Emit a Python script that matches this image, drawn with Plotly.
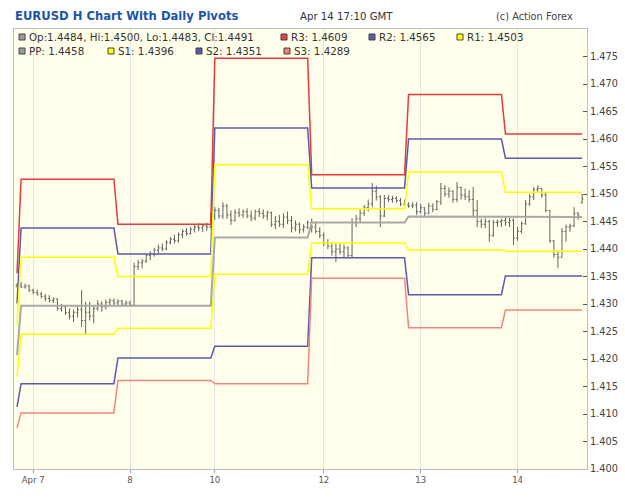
import numpy as np
import plotly.graph_objects as go

# ---------------- data (hourly bars) ----------------
opens = [1.4333, 1.4335, 1.4331, 1.4333, 1.4325, 1.4321, 1.4318, 1.4314, 1.4310, 1.4306,
         1.4309, 1.4292, 1.4295, 1.4284, 1.4278, 1.4285, 1.4290, 1.4270, 1.4285, 1.4278,
         1.4292, 1.4300, 1.4295, 1.4303, 1.4306, 1.4302, 1.4305, 1.4300, 1.4302, 1.4298,
         1.4368, 1.4375, 1.4378, 1.4388, 1.4390, 1.4398, 1.4402, 1.4400, 1.4412, 1.4418,
         1.4415, 1.4426, 1.4432, 1.4428, 1.4436, 1.4440, 1.4438, 1.4442, 1.4440, 1.4460,
         1.4470, 1.4460, 1.4478, 1.4462, 1.4452, 1.4466, 1.4462, 1.4468, 1.4460, 1.4456,
         1.4468, 1.4465, 1.4460, 1.4466, 1.4445, 1.4450, 1.4445, 1.4458, 1.4452, 1.4438,
         1.4445, 1.4435, 1.4440, 1.4448, 1.4440, 1.4432, 1.4425, 1.4410, 1.4405, 1.4395,
         1.4400, 1.4395, 1.4402, 1.4388, 1.4448, 1.4455, 1.4465, 1.4475, 1.4482, 1.4505,
         1.4495, 1.4460, 1.4492, 1.4490, 1.4492, 1.4488, 1.4482, 1.4480, 1.4478, 1.4480,
         1.4468, 1.4475, 1.4465, 1.4478, 1.4472, 1.4486, 1.4510, 1.4500, 1.4505, 1.4490,
         1.4512, 1.4498, 1.4495, 1.4490, 1.4470, 1.4450, 1.4445, 1.4450, 1.4425, 1.4448,
         1.4450, 1.4452, 1.4448, 1.4452, 1.4420, 1.4432, 1.4446, 1.4482, 1.4495, 1.4508,
         1.4510, 1.4498, 1.4470, 1.4415, 1.4390, 1.4385, 1.4432, 1.4440, 1.4442, 1.4465,
         1.4484]
highs = [1.4338, 1.4340, 1.4337, 1.4335, 1.4328, 1.4326, 1.4322, 1.4318, 1.4316, 1.4312,
         1.4310, 1.4300, 1.4298, 1.4292, 1.4290, 1.4295, 1.4325, 1.4304, 1.4304, 1.4298,
         1.4307, 1.4305, 1.4308, 1.4310, 1.4310, 1.4309, 1.4308, 1.4306, 1.4306, 1.4375,
         1.4380, 1.4382, 1.4392, 1.4396, 1.4402, 1.4408, 1.4410, 1.4416, 1.4422, 1.4426,
         1.4430, 1.4436, 1.4438, 1.4440, 1.4445, 1.4447, 1.4446, 1.4448, 1.4467, 1.4476,
         1.4475, 1.4485, 1.4482, 1.4470, 1.4472, 1.4474, 1.4472, 1.4474, 1.4470, 1.4472,
         1.4474, 1.4472, 1.4470, 1.4468, 1.4460, 1.4462, 1.4465, 1.4468, 1.4460, 1.4452,
         1.4448, 1.4445, 1.4452, 1.4455, 1.4448, 1.4440, 1.4430, 1.4418, 1.4412, 1.4410,
         1.4410, 1.4408, 1.4405, 1.4456, 1.4462, 1.4472, 1.4480, 1.4490, 1.4520, 1.4515,
         1.4498, 1.4498, 1.4498, 1.4497, 1.4496, 1.4493, 1.4490, 1.4485, 1.4485, 1.4485,
         1.4482, 1.4476, 1.4484, 1.4483, 1.4489, 1.4520, 1.4516, 1.4512, 1.4507, 1.4522,
         1.4513, 1.4510, 1.4507, 1.4513, 1.4489, 1.4455, 1.4456, 1.4453, 1.4453, 1.4453,
         1.4455, 1.4458, 1.4456, 1.4456, 1.4440, 1.4450, 1.4489, 1.4500, 1.4513, 1.4516,
         1.4511, 1.4502, 1.4471, 1.4416, 1.4398, 1.4438, 1.4444, 1.4446, 1.4476, 1.4467,
         1.4500]
lows = [1.4330, 1.4329, 1.4328, 1.4322, 1.4318, 1.4315, 1.4310, 1.4305, 1.4303, 1.4302,
        1.4288, 1.4286, 1.4280, 1.4272, 1.4267, 1.4275, 1.4258, 1.4244, 1.4270, 1.4265,
        1.4288, 1.4286, 1.4290, 1.4296, 1.4298, 1.4295, 1.4296, 1.4296, 1.4295, 1.4296,
        1.4362, 1.4365, 1.4375, 1.4380, 1.4386, 1.4392, 1.4396, 1.4398, 1.4408, 1.4410,
        1.4412, 1.4420, 1.4424, 1.4426, 1.4430, 1.4432, 1.4431, 1.4433, 1.4438, 1.4453,
        1.4455, 1.4455, 1.4455, 1.4444, 1.4450, 1.4458, 1.4457, 1.4456, 1.4450, 1.4452,
        1.4458, 1.4455, 1.4452, 1.4440, 1.4436, 1.4440, 1.4438, 1.4445, 1.4430, 1.4432,
        1.4428, 1.4430, 1.4436, 1.4430, 1.4428, 1.4420, 1.4405, 1.4400, 1.4388, 1.4376,
        1.4390, 1.4385, 1.4384, 1.4385, 1.4440, 1.4448, 1.4460, 1.4468, 1.4476, 1.4488,
        1.4440, 1.4458, 1.4485, 1.4484, 1.4484, 1.4478, 1.4475, 1.4475, 1.4474, 1.4462,
        1.4464, 1.4458, 1.4463, 1.4467, 1.4470, 1.4480, 1.4495, 1.4493, 1.4484, 1.4485,
        1.4490, 1.4489, 1.4485, 1.4458, 1.4440, 1.4438, 1.4438, 1.4413, 1.4422, 1.4440,
        1.4440, 1.4442, 1.4440, 1.4407, 1.4415, 1.4428, 1.4444, 1.4478, 1.4489, 1.4502,
        1.4493, 1.4467, 1.4411, 1.4384, 1.4365, 1.4385, 1.4413, 1.4431, 1.4440, 1.4453,
        1.4483]
closes = [1.4335, 1.4331, 1.4333, 1.4325, 1.4321, 1.4318, 1.4314, 1.4310, 1.4306, 1.4309,
          1.4292, 1.4295, 1.4284, 1.4278, 1.4285, 1.4290, 1.4270, 1.4285, 1.4278, 1.4292,
          1.4300, 1.4295, 1.4303, 1.4306, 1.4302, 1.4305, 1.4300, 1.4302, 1.4298, 1.4368,
          1.4375, 1.4378, 1.4388, 1.4390, 1.4398, 1.4402, 1.4400, 1.4412, 1.4418, 1.4415,
          1.4426, 1.4432, 1.4428, 1.4436, 1.4440, 1.4438, 1.4442, 1.4440, 1.4460, 1.4470,
          1.4460, 1.4478, 1.4462, 1.4452, 1.4466, 1.4462, 1.4468, 1.4460, 1.4456, 1.4468,
          1.4465, 1.4460, 1.4466, 1.4445, 1.4450, 1.4445, 1.4458, 1.4452, 1.4438, 1.4445,
          1.4435, 1.4440, 1.4448, 1.4440, 1.4432, 1.4425, 1.4410, 1.4405, 1.4395, 1.4400,
          1.4395, 1.4402, 1.4388, 1.4448, 1.4455, 1.4465, 1.4475, 1.4482, 1.4505, 1.4495,
          1.4460, 1.4492, 1.4490, 1.4492, 1.4488, 1.4482, 1.4480, 1.4478, 1.4480, 1.4468,
          1.4475, 1.4465, 1.4478, 1.4472, 1.4486, 1.4510, 1.4500, 1.4505, 1.4490, 1.4512,
          1.4498, 1.4495, 1.4490, 1.4470, 1.4450, 1.4445, 1.4450, 1.4425, 1.4448, 1.4450,
          1.4452, 1.4448, 1.4452, 1.4420, 1.4432, 1.4446, 1.4482, 1.4495, 1.4508, 1.4510,
          1.4498, 1.4470, 1.4415, 1.4390, 1.4385, 1.4432, 1.4440, 1.4442, 1.4465, 1.4460,
          1.4491]

# daily pivot levels (previous day, Apr 7, 8, 10/11, 12, 13, 14) and the bar where each starts
day_first_bar = [0, 1, 25, 49, 73, 97, 121]
r3 = [1.4356, 1.4527, 1.4445, 1.4747, 1.4535, 1.4681, 1.4609]
r2 = [1.4301, 1.4438, 1.4391, 1.4620, 1.4511, 1.4600, 1.4565]
r1 = [1.4262, 1.4385, 1.4350, 1.4553, 1.4473, 1.4540, 1.4503]
pp = [1.4207, 1.4297, 1.4297, 1.4421, 1.4448, 1.4459, 1.4458]
s1 = [1.4168, 1.4245, 1.4256, 1.4354, 1.4411, 1.4398, 1.4396]
s2 = [1.4113, 1.4155, 1.4202, 1.4223, 1.4384, 1.4317, 1.4351]
s3 = [1.4075, 1.4102, 1.4161, 1.4155, 1.4347, 1.4257, 1.4289]

# x tick labels (bar index of each date label)
tick_bars = [4, 28, 49, 76, 100, 124]
tick_labels = ["Apr 7", "8", "10", "12", "13", "14"]
y_ticks = [round(1.400 + 0.005 * k, 3) for k in range(16)]

# ---------------- figure ----------------
n = len(closes)
xs = np.arange(n)
day_idx = np.searchsorted(np.array(day_first_bar), xs, side="right") - 1


def expand(levels):
    return np.array(levels)[day_idx]


W, H = 625, 499
L, R, T, B = 14, 587, 29, 469


def pxx(x):
    return (x - L) / (R - L)


def pyy(y):
    return (B - y) / (B - T)


fig = go.Figure()

line_specs = [
    ("R3", r3, "#e83a3a", 1.5),
    ("R2", r2, "#5a5aae", 1.5),
    ("R1", r1, "#ffff00", 1.5),
    ("S1", s1, "#ffff00", 1.5),
    ("S2", s2, "#5a5aae", 1.5),
    ("S3", s3, "#f4857c", 1.5),
    ("PP", pp, "#a8a8a8", 2),
]
for name, lv, col, w in line_specs:
    fig.add_trace(go.Scatter(x=xs, y=expand(lv), mode="lines", name=name,
                             line=dict(color=col, width=w), hoverinfo="skip"))

fig.add_trace(go.Ohlc(x=xs, open=opens, high=highs, low=lows, close=closes,
                      increasing=dict(line=dict(color="#626262", width=1)),
                      decreasing=dict(line=dict(color="#626262", width=1)),
                      tickwidth=0.35, name="EURUSD"))

font_main = "DejaVu Sans, Verdana, sans-serif"
annotations = [
    dict(text="<b>EURUSD H Chart With Daily Pivots</b>", x=pxx(13), y=pyy(16),
         font=dict(size=11.6, color="#1c55a8", family=font_main)),
    dict(text="Apr 14 17:10 GMT", x=pxx(298), y=pyy(16),
         font=dict(size=10.2, color="#333333", family=font_main)),
    dict(text="(c) Action Forex", x=pxx(494), y=pyy(16),
         font=dict(size=9.8, color="#444444", family=font_main)),
]

last = n - 1
legend_items = [
    (19, 37, "#9a9a9a", "Op:%.4f, Hi:%.4f, Lo:%.4f, Cl:%.4f" % (opens[last], highs[last], lows[last], closes[last])),
    (281, 37, "#e84040", "R3: %.4f" % r3[-1]),
    (369, 37, "#5a5aae", "R2: %.4f" % r2[-1]),
    (457, 37, "#ffff00", "R1: %.4f" % r1[-1]),
    (19, 51, "#9a9a9a", "PP: %.4f" % pp[-1]),
    (108, 51, "#ffff00", "S1: %.4f" % s1[-1]),
    (196, 51, "#5a5aae", "S2: %.4f" % s2[-1]),
    (284, 51, "#f08070", "S3: %.4f" % s3[-1]),
]
shapes = []
for x0, yc, col, txt in legend_items:
    shapes.append(dict(type="rect", xref="paper", yref="paper",
                       x0=pxx(x0), x1=pxx(x0 + 6), y0=pyy(yc + 3), y1=pyy(yc - 3),
                       fillcolor=col, line=dict(color="#444444", width=1)))
    annotations.append(dict(text=txt, x=pxx(x0 + 8), y=pyy(yc),
                            font=dict(size=10.3, color="#333333", family=font_main)))

for a in annotations:
    a.update(xref="paper", yref="paper", xanchor="left", yanchor="middle", showarrow=False)

fig.update_layout(
    width=W, height=H,
    margin=dict(l=L, r=W - R, t=T, b=H - B, pad=0, autoexpand=False),
    paper_bgcolor="white", plot_bgcolor="#ffffec",
    showlegend=False,
    annotations=annotations, shapes=shapes,
    xaxis=dict(range=[-0.75, 141.2], tickvals=tick_bars, ticktext=tick_labels,
               showgrid=True, gridcolor="#e4e4e4", gridwidth=1,
               ticks="outside", ticklen=3, tickcolor="#999999",
               tickfont=dict(size=8.5, color="#555555", family=font_main),
               showline=True, linecolor="#bdbdbd", linewidth=1, mirror=True,
               zeroline=False, rangeslider=dict(visible=False), fixedrange=True,
               automargin=False),
    yaxis=dict(range=[1.400, 1.480], side="right", tickvals=y_ticks,
               ticktext=["%.3f" % v for v in y_ticks],
               showgrid=False, zeroline=False,
               ticks="inside", ticklen=4, tickcolor="#555555",
               tickfont=dict(size=9.8, color="#444444", family=font_main),
               showline=True, linecolor="#bdbdbd", linewidth=1, mirror=True,
               fixedrange=True, automargin=False),
)

fig.write_html("out.html", config={"displayModeBar": False})
